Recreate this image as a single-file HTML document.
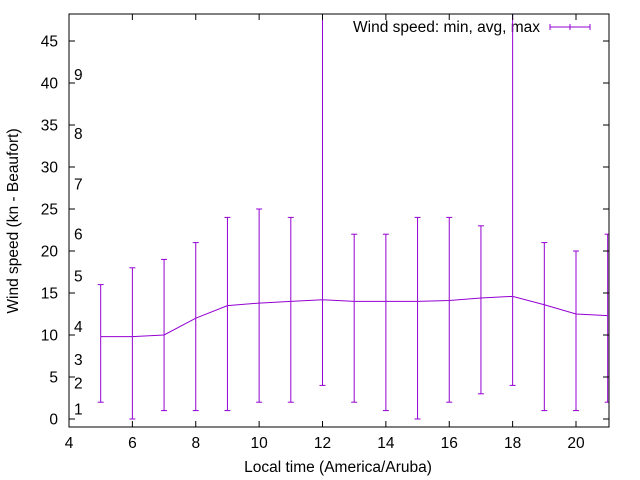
<!DOCTYPE html>
<html><head><meta charset="utf-8"><style>
body{margin:0;background:#fff}
svg{display:block;font-family:"Liberation Sans",sans-serif}
</style></head><body>
<svg id="c" width="640" height="480">
<text x="540" y="32" font-size="15.5" text-anchor="end">Wind speed: min, avg, max</text>
</svg>
<script>
const hours=[5,6,7,8,9,10,11,12,13,14,15,16,17,18,19,20,21];
const avgSpeed=[9.8,9.8,10,12,13.5,13.8,14,14.2,14,14,14,14.1,14.4,14.6,13.6,12.5,12.3];
const minSpeed=[2,0,1,1,1,2,2,4,2,1,0,2,3,4,1,1,2];
const maxSpeed=[16,18,19,21,24,25,24,60,22,22,24,24,23,60,21,20,22];
const xTicks=[4,6,8,10,12,14,16,18,20];
const yTicks=[0,5,10,15,20,25,30,35,40,45];
const bftLabels=["1","2","3","4","5","6","7","8","9"];
const bftValues=[1.2,4.3,7.1,11,17,22,28,34,41];
const L=69,R=609,T=14,B=427;
const X=v=>L+(v-4)*(576-L)/16;
const Y=v=>419-v*8.4;
const s=document.getElementById('c');
const NS='http://www.w3.org/2000/svg';
function el(t,a,p){const e=document.createElementNS(NS,t);for(const k in a)e.setAttribute(k,a[k]);(p||s).appendChild(e);return e;}
const FS=15.5;
const clip=el('clipPath',{id:'pc'});el('rect',{x:L,y:T,width:R-L,height:B-T},clip);
const g=el('g',{'clip-path':'url(#pc)'});


xTicks.forEach(v=>{
 const x=X(v);
 const t=el('line',{x1:x,y1:B,x2:x,y2:B-6,stroke:'#000'});
 
 
 el('line',{x1:x,y1:T,x2:x,y2:T+6,stroke:'#000'});
 const l=el('text',{x:x,y:B+21,'font-size':FS,'text-anchor':'middle'});l.textContent=v;
 
 
});
yTicks.forEach(v=>{
 const y=Y(v);
 const t=el('line',{x1:L,y1:y,x2:L+6,y2:y,stroke:'#000'});
 
 
 el('line',{x1:R,y1:y,x2:R-6,y2:y,stroke:'#000'});
 const l=el('text',{x:L-11,y:y+5.5,'font-size':FS,'text-anchor':'end'});l.textContent=v;
 
 
});
bftLabels.forEach((b,i)=>{
 const l=el('text',{x:74,y:Y(bftValues[i])+5.5,'font-size':FS});l.textContent=b;
 
 
});
const c='#9400d3';
hours.forEach((h,i)=>{
 const x=X(h);
 const e=el('line',{x1:x,y1:Y(minSpeed[i]),x2:x,y2:Y(maxSpeed[i]),stroke:c},g);
 
 
 el('line',{x1:x-3,y1:Y(minSpeed[i]),x2:x+3,y2:Y(minSpeed[i]),stroke:c},g);
 el('line',{x1:x-3,y1:Y(maxSpeed[i]),x2:x+3,y2:Y(maxSpeed[i]),stroke:c},g);
});
const p=el('polyline',{points:hours.map((h,i)=>X(h)+','+Y(avgSpeed[i])).join(' '),fill:'none',stroke:c},g);


const f=el('rect',{x:L,y:T,width:R-L,height:B-T,fill:'none',stroke:'#000'});


el('line',{x1:550,y1:27,x2:590,y2:27,stroke:c});
el('line',{x1:550,y1:24,x2:550,y2:30,stroke:c});
el('line',{x1:570,y1:24,x2:570,y2:30,stroke:c});
el('line',{x1:590,y1:24,x2:590,y2:30,stroke:c});
const xt=el('text',{x:338,y:472,'font-size':FS,'text-anchor':'middle'});xt.textContent='Local time (America/Aruba)';


const yt=el('text',{x:0,y:0,'font-size':FS,'text-anchor':'middle',transform:'translate(18,221) rotate(-90)'});yt.textContent='Wind speed (kn - Beaufort)';


</script>
</body></html>
